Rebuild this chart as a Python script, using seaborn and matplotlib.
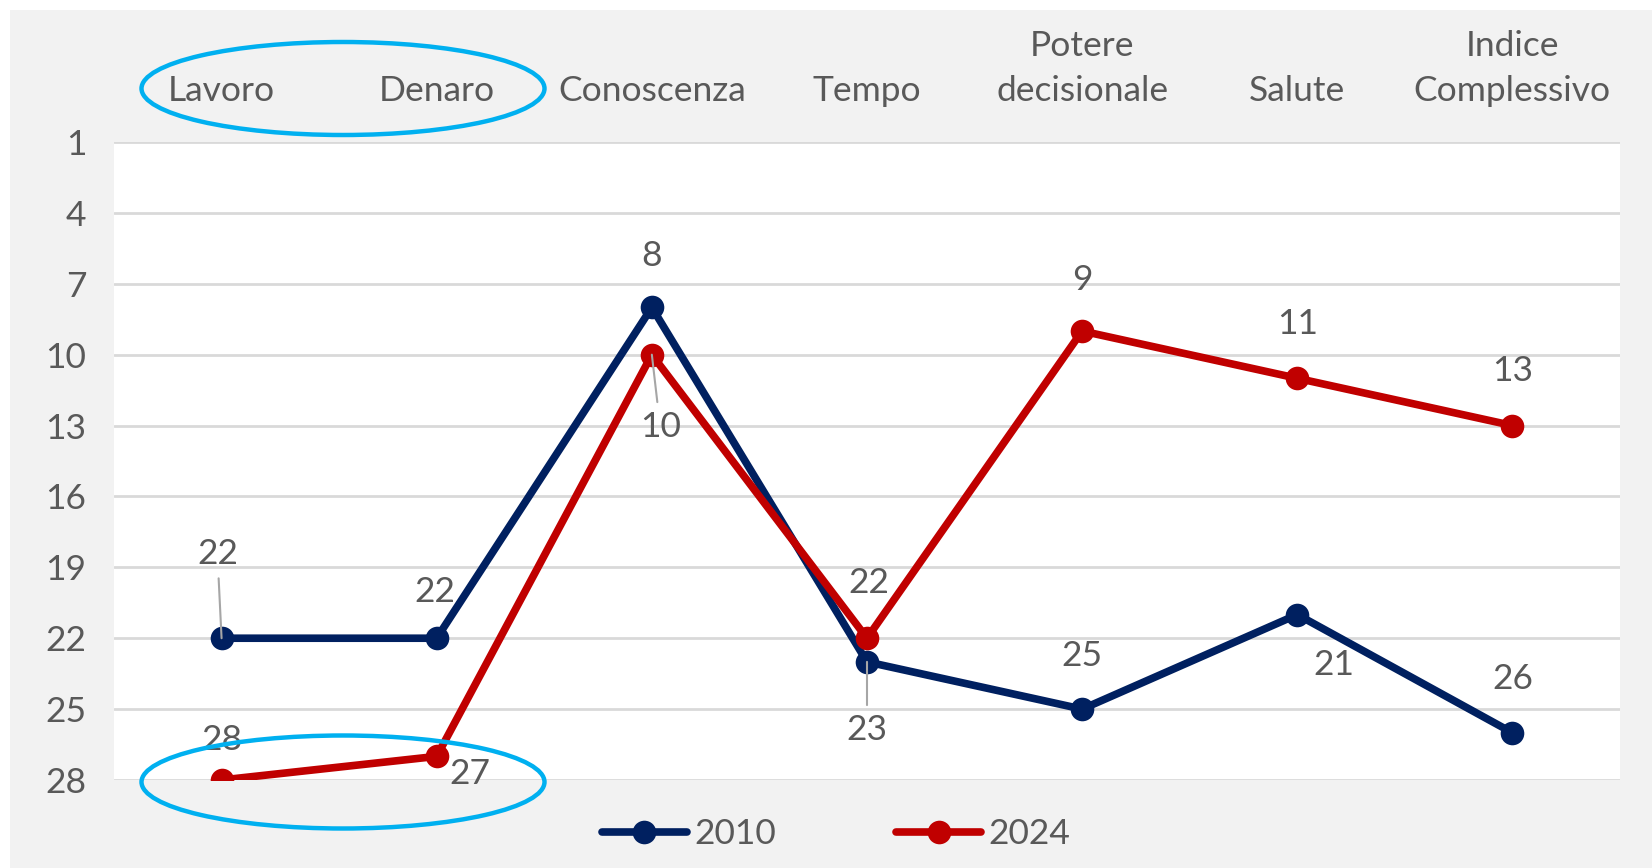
import pandas as pd
import seaborn as sns
import matplotlib.pyplot as plt
from matplotlib.patches import Ellipse, Rectangle

# dati (posizione in classifica, 1 = migliore)
categorie = ["Lavoro", "Denaro", "Conoscenza", "Tempo",
             "Potere\ndecisionale", "Salute", "Indice\nComplessivo"]
rank_2010 = [22, 22, 8, 23, 25, 21, 26]
rank_2024 = [28, 27, 10, 22, 9, 11, 13]
anni = ["2010", "2024"]
yticks = [1, 4, 7, 10, 13, 16, 19, 22, 25, 28]

# offset (punti) delle etichette dati, come nell'originale
off_2010 = [(-3, 61), (-1.5, 33), (0, 37), (0, -49), (0, 38), (26, -36), (0, 39)]
off_2024 = [(0, 29), (24, -13), (6, -52), (1, 40), (0, 37), (0, 39), (0, 39)]
leader_2010 = [True, False, False, True, False, False, False]
leader_2024 = [False, False, True, False, False, False, False]

BLU = "#002060"
ROSSO = "#C00000"
GRIGIO_TXT = "#595959"
FS = 25.5

sns.set_theme(style="white")
plt.rcParams['font.family'] = ['Lato', 'DejaVu Sans']

df = pd.DataFrame({
    "categoria": categorie * 2,
    "rank": rank_2010 + rank_2024,
    "anno": [anni[0]] * len(categorie) + [anni[1]] * len(categorie),
})

fig = plt.figure(figsize=(16.52, 8.68), dpi=100, facecolor="white")
fig.patches.append(Rectangle((10 / 1652, 0), 1, 1 - 10 / 868, transform=fig.transFigure,
                             facecolor="#F2F2F2", edgecolor="none", zorder=-10))
ax = fig.add_axes([114 / 1652, 1 - 780 / 868, (1620 - 114) / 1652, (780 - 142) / 868])
ax.set_facecolor("white")

sns.lineplot(data=df, x="categoria", y="rank", hue="anno", palette=[BLU, ROSSO],
             marker="o", markersize=17, linewidth=5.5, markeredgewidth=0,
             sort=False, ax=ax, legend=False)

ax.set_xlim(-0.5, len(categorie) - 0.5)
ax.set_ylim(28, 1)
ax.set_yticks(yticks)
ax.grid(axis="y", color="#D9D9D9", linewidth=2)
ax.set_axisbelow(True)
for s in ax.spines.values():
    s.set_visible(False)
ax.xaxis.tick_top()
ax.set_xticks(range(len(categorie)))
ax.set_xticklabels(categorie, linespacing=1.5)
ax.tick_params(axis="x", length=0, pad=25, labelsize=FS, labelcolor=GRIGIO_TXT)
ax.tick_params(axis="y", length=0, pad=20, labelsize=FS, labelcolor=GRIGIO_TXT)
ax.set_xlabel("")
ax.set_ylabel("")

# etichette dati
for vals, offs, leads in [(rank_2010, off_2010, leader_2010), (rank_2024, off_2024, leader_2024)]:
    for i, v in enumerate(vals):
        kw = {}
        if leads[i]:
            kw["arrowprops"] = dict(arrowstyle="-", color="#A6A6A6", lw=1.5, shrinkA=4, shrinkB=0)
        ax.annotate(str(v), (i, v), xytext=offs[i], textcoords="offset points",
                    ha="center", va="center", fontsize=FS, color=GRIGIO_TXT, **kw)

# legenda in basso
h = [plt.Line2D([], [], color=c, marker="o", markersize=17, linewidth=5.5, markeredgewidth=0)
     for c in [BLU, ROSSO]]
fig.legend(h, anni, loc="center", bbox_to_anchor=(0.506, 1 - 834 / 868), ncol=2, frameon=False,
           fontsize=FS, labelcolor=GRIGIO_TXT, handlelength=2.4, handletextpad=0.2,
           columnspacing=3.4)

# ellissi evidenziate
for yc in [88.5, 782]:
    fig.patches.append(Ellipse((343 / 1652, 1 - yc / 868), 403 / 1652, 93 / 868,
                               transform=fig.transFigure, fill=False,
                               edgecolor="#00B0F0", linewidth=3.2, zorder=10))

fig.savefig("out.png", dpi=100, facecolor=fig.get_facecolor())
